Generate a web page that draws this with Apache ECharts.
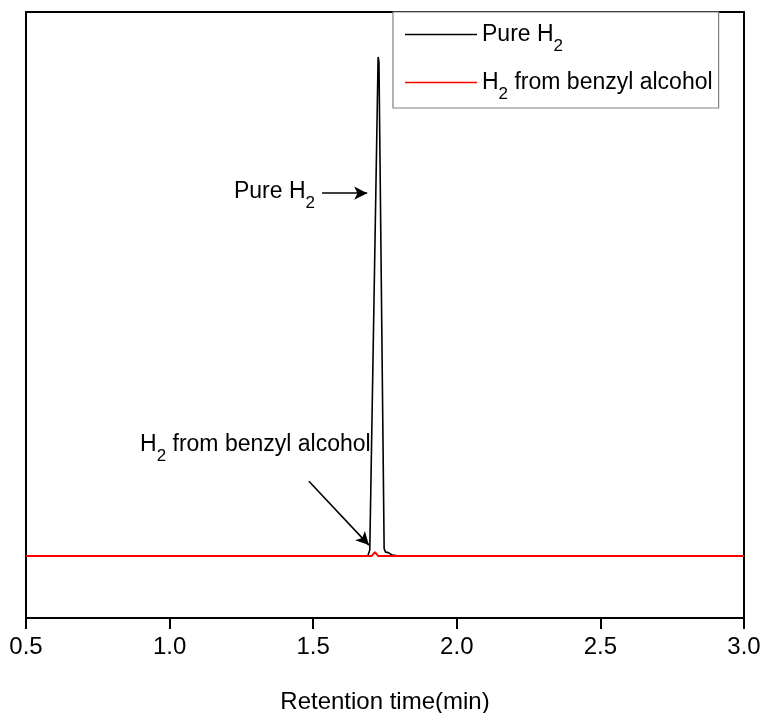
<!DOCTYPE html>
<html>
<head>
<meta charset="utf-8">
<script src="https://cdn.jsdelivr.net/npm/echarts@6/dist/echarts.min.js"></script>
<style>
  html, body { margin: 0; padding: 0; background: #fff; }
  #chart { width: 765px; height: 713px; }
</style>
</head>
<body>
<div id="chart"></div>
<script>
// retention time (min) and detector signal (relative)
const pureTime = [0.5, 1.69, 1.697, 1.726, 1.729, 1.747, 1.752, 1.762, 1.775, 1.8, 3.0]
const pureSignal = [0, 0, 1.2, 100, 99, 1.5, 0.8, 0.7, 0.2, 0, 0]
const benzylTime = [0.5, 1.703, 1.709, 1.715, 1.721, 1.727, 3.0]
const benzylSignal = [0, 0, 0.4, 0.8, 0.4, 0, 0]

const xTicks = [0.5, 1.0, 1.5, 2.0, 2.5, 3.0]

// annotation arrows [start, end] and label anchors
const pureArrow = [[1.531, 72.7], [1.688, 72.7]]
const benzylArrow = [[1.485, 15.0], [1.694, 2.2]]
const pureLabelAt = [1.52, 73.0]
const benzylLabelAt = [1.700, 22.4]

const FONT = 'Liberation Sans, Arial, sans-serif'

// subscript: small token pushed down with top padding
const richSub = {
  n: { fontSize: 23, fontFamily: FONT, color: '#000' },
  s: { fontSize: 17, fontFamily: FONT, color: '#000', padding: [24, 0, 0, 0] }
}

function zip(xs, ys) {
  return xs.map((x, i) => [x, ys[i]])
}

const chart = echarts.init(document.getElementById('chart'))

const option = {
  animation: false,
  backgroundColor: '#fff',
  grid: {
    left: 26,
    right: 21,
    top: 12,
    bottom: 95,
    containLabel: false,
    outerBoundsMode: 'none'
  },
  legend: {
    orient: 'vertical',
    left: 393,
    top: 12,
    padding: [11, 6, 5, 12],
    icon: 'rect',
    itemWidth: 72,
    itemHeight: 1.6,
    itemGap: 16,
    borderColor: '#808080',
    borderWidth: 1.2,
    backgroundColor: '#fff',
    selectedMode: false,
    data: ['Pure H2', 'H2 from benzyl alcohol'],
    formatter: function (name) {
      if (name === 'Pure H2') return '{n|Pure H}{s|2}'
      return '{n|H}{s|2}{n| from benzyl alcohol}'
    },
    textStyle: {
      fontFamily: FONT,
      fontSize: 23,
      color: '#000',
      rich: richSub
    }
  },
  xAxis: [
    {
      type: 'value',
      min: 0.5,
      max: 3.0,
      interval: 0.5,
      position: 'bottom',
      name: 'Retention time(min)',
      nameLocation: 'middle',
      nameGap: 72,
      nameTextStyle: { fontFamily: FONT, fontSize: 24, color: '#000' },
      axisLine: { show: true, onZero: false, lineStyle: { color: '#000', width: 2 } },
      axisTick: { show: true, inside: false, length: 11, lineStyle: { color: '#000', width: 2 } },
      axisLabel: {
        show: true,
        margin: 17,
        fontFamily: FONT,
        fontSize: 24,
        color: '#000',
        formatter: function (v) {
          return xTicks.indexOf(v) >= 0 ? v.toFixed(1) : ''
        }
      },
      splitLine: { show: false }
    },
    {
      type: 'value',
      min: 0.5,
      max: 3.0,
      position: 'top',
      axisLine: { show: true, onZero: false, lineStyle: { color: '#000', width: 2 } },
      axisTick: { show: false },
      axisLabel: { show: false },
      splitLine: { show: false }
    }
  ],
  yAxis: [
    {
      type: 'value',
      min: -12.4,
      max: 109,
      position: 'left',
      axisLine: { show: true, onZero: false, lineStyle: { color: '#000', width: 2 } },
      axisTick: { show: false },
      axisLabel: { show: false },
      splitLine: { show: false }
    },
    {
      type: 'value',
      min: -12.4,
      max: 109,
      position: 'right',
      axisLine: { show: true, onZero: false, lineStyle: { color: '#000', width: 2 } },
      axisTick: { show: false },
      axisLabel: { show: false },
      splitLine: { show: false }
    }
  ],
  series: [
    {
      name: 'Pure H2',
      type: 'line',
      symbol: 'none',
      color: '#000',
      lineStyle: { color: '#000', width: 1.6 },
      data: zip(pureTime, pureSignal),
      z: 2,
      markLine: {
        silent: true,
        symbol: ['none', 'arrow'],
        symbolSize: [10, 13],
        label: { show: false },
        lineStyle: { color: '#000', width: 1.6, type: 'solid' },
        data: [
          [{ coord: pureArrow[0] }, { coord: pureArrow[1] }],
          [{ coord: benzylArrow[0] }, { coord: benzylArrow[1] }]
        ]
      },
      markPoint: {
        silent: true,
        symbol: 'circle',
        symbolSize: 0,
        data: [
          {
            coord: pureLabelAt,
            label: {
              show: true,
              position: 'left',
              distance: 4,
              formatter: '{n|Pure H}{s|2}',
              rich: richSub
            }
          },
          {
            coord: benzylLabelAt,
            label: {
              show: true,
              position: 'left',
              distance: 0,
              formatter: '{n|H}{s|2}{n| from benzyl alcohol}',
              rich: richSub
            }
          }
        ]
      }
    },
    {
      name: 'H2 from benzyl alcohol',
      type: 'line',
      symbol: 'none',
      color: '#f00',
      lineStyle: { color: '#f00', width: 2 },
      data: zip(benzylTime, benzylSignal),
      z: 3
    }
  ]
}

chart.setOption(option)
</script>
</body>
</html>
